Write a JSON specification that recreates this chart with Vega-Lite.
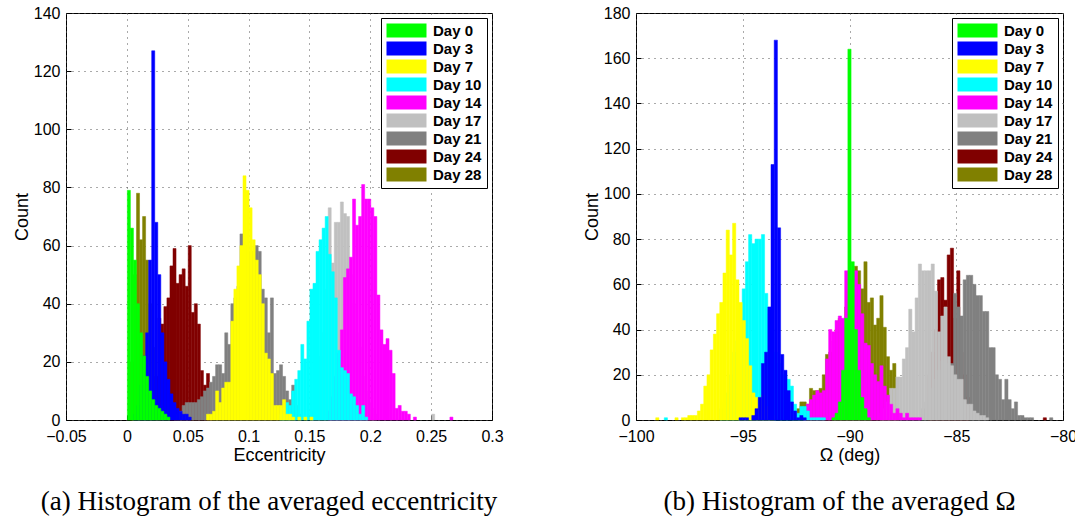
{
"$schema": "https://vega.github.io/schema/vega-lite/v6.json",
"background": "white",
"padding": {"left": 12, "top": 4, "right": 0, "bottom": 0},
"datasets": {
"ecc": [
{"d":"Day 28","x":0.0025,"c":20},{"d":"Day 28","x":0.005,"c":50},{"d":"Day 28","x":0.0075,"c":78},{"d":"Day 28","x":0.01,"c":62},{"d":"Day 28","x":0.0125,"c":70},{"d":"Day 28","x":0.015,"c":55},{"d":"Day 28","x":0.0175,"c":40},{"d":"Day 28","x":0.02,"c":25},{"d":"Day 28","x":0.0225,"c":10},{"d":"Day 28","x":0.025,"c":4},
{"d":"Day 24","x":0.0225,"c":15},{"d":"Day 24","x":0.025,"c":35},{"d":"Day 24","x":0.0275,"c":33},{"d":"Day 24","x":0.03,"c":39},{"d":"Day 24","x":0.0325,"c":42},{"d":"Day 24","x":0.035,"c":53},{"d":"Day 24","x":0.0375,"c":59},{"d":"Day 24","x":0.04,"c":47},{"d":"Day 24","x":0.0425,"c":50},{"d":"Day 24","x":0.045,"c":52},{"d":"Day 24","x":0.0475,"c":46},{"d":"Day 24","x":0.05,"c":60},{"d":"Day 24","x":0.0525,"c":37},{"d":"Day 24","x":0.055,"c":40},{"d":"Day 24","x":0.0575,"c":33},{"d":"Day 24","x":0.06,"c":17},{"d":"Day 24","x":0.0625,"c":12},{"d":"Day 24","x":0.065,"c":16},{"d":"Day 24","x":0.0675,"c":3},
{"d":"Day 21","x":0.04,"c":2},{"d":"Day 21","x":0.0425,"c":3},{"d":"Day 21","x":0.045,"c":5},{"d":"Day 21","x":0.0475,"c":6},{"d":"Day 21","x":0.05,"c":6},{"d":"Day 21","x":0.0525,"c":6},{"d":"Day 21","x":0.055,"c":6},{"d":"Day 21","x":0.0575,"c":7},{"d":"Day 21","x":0.06,"c":8},{"d":"Day 21","x":0.0625,"c":10},{"d":"Day 21","x":0.065,"c":11},{"d":"Day 21","x":0.0675,"c":13},{"d":"Day 21","x":0.07,"c":15},{"d":"Day 21","x":0.0725,"c":19},{"d":"Day 21","x":0.075,"c":19},{"d":"Day 21","x":0.0775,"c":16},{"d":"Day 21","x":0.08,"c":30},{"d":"Day 21","x":0.0825,"c":26},{"d":"Day 21","x":0.085,"c":40},{"d":"Day 21","x":0.0875,"c":42},{"d":"Day 21","x":0.09,"c":46},{"d":"Day 21","x":0.0925,"c":64},{"d":"Day 21","x":0.095,"c":64},{"d":"Day 21","x":0.0975,"c":60},{"d":"Day 21","x":0.1,"c":58},{"d":"Day 21","x":0.1025,"c":58},{"d":"Day 21","x":0.105,"c":60},{"d":"Day 21","x":0.1075,"c":58},{"d":"Day 21","x":0.11,"c":45},{"d":"Day 21","x":0.1125,"c":42},{"d":"Day 21","x":0.115,"c":30},{"d":"Day 21","x":0.1175,"c":42},{"d":"Day 21","x":0.12,"c":16},{"d":"Day 21","x":0.1225,"c":17},{"d":"Day 21","x":0.125,"c":19},{"d":"Day 21","x":0.1275,"c":15},{"d":"Day 21","x":0.13,"c":10},{"d":"Day 21","x":0.1325,"c":7},{"d":"Day 21","x":0.135,"c":12},{"d":"Day 21","x":0.1375,"c":5},{"d":"Day 21","x":0.14,"c":2},
{"d":"Day 17","x":0.15,"c":3},{"d":"Day 17","x":0.1525,"c":8},{"d":"Day 17","x":0.155,"c":15},{"d":"Day 17","x":0.1575,"c":22},{"d":"Day 17","x":0.16,"c":30},{"d":"Day 17","x":0.1625,"c":45},{"d":"Day 17","x":0.165,"c":73},{"d":"Day 17","x":0.1675,"c":54},{"d":"Day 17","x":0.17,"c":68},{"d":"Day 17","x":0.1725,"c":68},{"d":"Day 17","x":0.175,"c":75},{"d":"Day 17","x":0.1775,"c":71},{"d":"Day 17","x":0.18,"c":70},{"d":"Day 17","x":0.1825,"c":50},{"d":"Day 17","x":0.185,"c":40},{"d":"Day 17","x":0.1875,"c":30},{"d":"Day 17","x":0.19,"c":25},{"d":"Day 17","x":0.1925,"c":15},{"d":"Day 17","x":0.195,"c":10},{"d":"Day 17","x":0.1975,"c":6},{"d":"Day 17","x":0.2,"c":4},{"d":"Day 17","x":0.2025,"c":2},{"d":"Day 17","x":0.25,"c":2},
{"d":"Day 14","x":0.165,"c":3},{"d":"Day 14","x":0.1675,"c":8},{"d":"Day 14","x":0.17,"c":15},{"d":"Day 14","x":0.1725,"c":23},{"d":"Day 14","x":0.175,"c":31},{"d":"Day 14","x":0.1775,"c":49},{"d":"Day 14","x":0.18,"c":52},{"d":"Day 14","x":0.1825,"c":56},{"d":"Day 14","x":0.185,"c":76},{"d":"Day 14","x":0.1875,"c":67},{"d":"Day 14","x":0.19,"c":70},{"d":"Day 14","x":0.1925,"c":81},{"d":"Day 14","x":0.195,"c":76},{"d":"Day 14","x":0.1975,"c":76},{"d":"Day 14","x":0.2,"c":73},{"d":"Day 14","x":0.2025,"c":70},{"d":"Day 14","x":0.205,"c":43},{"d":"Day 14","x":0.2075,"c":31},{"d":"Day 14","x":0.21,"c":26},{"d":"Day 14","x":0.2125,"c":28},{"d":"Day 14","x":0.215,"c":24},{"d":"Day 14","x":0.2175,"c":16},{"d":"Day 14","x":0.22,"c":4},{"d":"Day 14","x":0.2225,"c":5},{"d":"Day 14","x":0.225,"c":3},{"d":"Day 14","x":0.2275,"c":3},{"d":"Day 14","x":0.23,"c":2},{"d":"Day 14","x":0.235,"c":1},{"d":"Day 14","x":0.265,"c":1},
{"d":"Day 10","x":0.125,"c":2},{"d":"Day 10","x":0.1275,"c":4},{"d":"Day 10","x":0.13,"c":6},{"d":"Day 10","x":0.1325,"c":5},{"d":"Day 10","x":0.135,"c":10},{"d":"Day 10","x":0.1375,"c":14},{"d":"Day 10","x":0.14,"c":17},{"d":"Day 10","x":0.1425,"c":26},{"d":"Day 10","x":0.145,"c":21},{"d":"Day 10","x":0.1475,"c":34},{"d":"Day 10","x":0.15,"c":45},{"d":"Day 10","x":0.1525,"c":47},{"d":"Day 10","x":0.155,"c":58},{"d":"Day 10","x":0.1575,"c":62},{"d":"Day 10","x":0.16,"c":66},{"d":"Day 10","x":0.1625,"c":70},{"d":"Day 10","x":0.165,"c":57},{"d":"Day 10","x":0.1675,"c":51},{"d":"Day 10","x":0.17,"c":42},{"d":"Day 10","x":0.1725,"c":24},{"d":"Day 10","x":0.175,"c":18},{"d":"Day 10","x":0.1775,"c":17},{"d":"Day 10","x":0.18,"c":16},{"d":"Day 10","x":0.1825,"c":9},{"d":"Day 10","x":0.185,"c":8},{"d":"Day 10","x":0.1875,"c":5},{"d":"Day 10","x":0.19,"c":2},{"d":"Day 10","x":0.1925,"c":5},{"d":"Day 10","x":0.195,"c":1},
{"d":"Day 7","x":0.065,"c":2},{"d":"Day 7","x":0.0675,"c":2},{"d":"Day 7","x":0.07,"c":3},{"d":"Day 7","x":0.0725,"c":10},{"d":"Day 7","x":0.075,"c":6},{"d":"Day 7","x":0.0775,"c":11},{"d":"Day 7","x":0.08,"c":13},{"d":"Day 7","x":0.0825,"c":13},{"d":"Day 7","x":0.085,"c":34},{"d":"Day 7","x":0.0875,"c":45},{"d":"Day 7","x":0.09,"c":53},{"d":"Day 7","x":0.0925,"c":60},{"d":"Day 7","x":0.095,"c":84},{"d":"Day 7","x":0.0975,"c":79},{"d":"Day 7","x":0.1,"c":73},{"d":"Day 7","x":0.1025,"c":62},{"d":"Day 7","x":0.105,"c":55},{"d":"Day 7","x":0.1075,"c":50},{"d":"Day 7","x":0.11,"c":40},{"d":"Day 7","x":0.1125,"c":23},{"d":"Day 7","x":0.115,"c":21},{"d":"Day 7","x":0.1175,"c":16},{"d":"Day 7","x":0.12,"c":5},{"d":"Day 7","x":0.1225,"c":5},{"d":"Day 7","x":0.125,"c":5},{"d":"Day 7","x":0.1275,"c":7},{"d":"Day 7","x":0.13,"c":2},{"d":"Day 7","x":0.1325,"c":2},{"d":"Day 7","x":0.135,"c":1},{"d":"Day 7","x":0.14,"c":1},{"d":"Day 7","x":0.145,"c":1},{"d":"Day 7","x":0.15,"c":1},
{"d":"Day 3","x":0.005,"c":2},{"d":"Day 3","x":0.0075,"c":5},{"d":"Day 3","x":0.01,"c":12},{"d":"Day 3","x":0.0125,"c":22},{"d":"Day 3","x":0.015,"c":30},{"d":"Day 3","x":0.0175,"c":55},{"d":"Day 3","x":0.02,"c":127},{"d":"Day 3","x":0.0225,"c":68},{"d":"Day 3","x":0.025,"c":50},{"d":"Day 3","x":0.0275,"c":30},{"d":"Day 3","x":0.03,"c":20},{"d":"Day 3","x":0.0325,"c":14},{"d":"Day 3","x":0.035,"c":9},{"d":"Day 3","x":0.0375,"c":6},{"d":"Day 3","x":0.04,"c":4},{"d":"Day 3","x":0.0425,"c":3},{"d":"Day 3","x":0.045,"c":2},{"d":"Day 3","x":0.0475,"c":2},{"d":"Day 3","x":0.05,"c":1},
{"d":"Day 0","x":0,"c":79},{"d":"Day 0","x":0.0025,"c":66},{"d":"Day 0","x":0.005,"c":55},{"d":"Day 0","x":0.0075,"c":40},{"d":"Day 0","x":0.01,"c":30},{"d":"Day 0","x":0.0125,"c":22},{"d":"Day 0","x":0.015,"c":15},{"d":"Day 0","x":0.0175,"c":10},{"d":"Day 0","x":0.02,"c":7},{"d":"Day 0","x":0.0225,"c":5},{"d":"Day 0","x":0.025,"c":4},{"d":"Day 0","x":0.0275,"c":3},{"d":"Day 0","x":0.03,"c":2},{"d":"Day 0","x":0.0325,"c":1}
],
"om": [
{"d":"Day 28","x":-92.65,"c":3},{"d":"Day 28","x":-92.5,"c":5},{"d":"Day 28","x":-92.35,"c":8},{"d":"Day 28","x":-92.2,"c":8},{"d":"Day 28","x":-92.05,"c":7},{"d":"Day 28","x":-91.9,"c":14},{"d":"Day 28","x":-91.75,"c":13},{"d":"Day 28","x":-91.6,"c":13},{"d":"Day 28","x":-91.45,"c":14},{"d":"Day 28","x":-91.3,"c":20},{"d":"Day 28","x":-91.15,"c":29},{"d":"Day 28","x":-91.0,"c":30},{"d":"Day 28","x":-90.85,"c":35},{"d":"Day 28","x":-90.7,"c":40},{"d":"Day 28","x":-90.55,"c":45},{"d":"Day 28","x":-90.4,"c":41},{"d":"Day 28","x":-90.25,"c":50},{"d":"Day 28","x":-90.1,"c":55},{"d":"Day 28","x":-89.95,"c":60},{"d":"Day 28","x":-89.8,"c":68},{"d":"Day 28","x":-89.65,"c":66},{"d":"Day 28","x":-89.5,"c":58},{"d":"Day 28","x":-89.35,"c":70},{"d":"Day 28","x":-89.2,"c":52},{"d":"Day 28","x":-89.05,"c":54},{"d":"Day 28","x":-88.9,"c":42},{"d":"Day 28","x":-88.75,"c":45},{"d":"Day 28","x":-88.6,"c":55},{"d":"Day 28","x":-88.45,"c":41},{"d":"Day 28","x":-88.3,"c":28},{"d":"Day 28","x":-88.15,"c":22},{"d":"Day 28","x":-88.0,"c":25},{"d":"Day 28","x":-87.85,"c":3},
{"d":"Day 24","x":-86.35,"c":20},{"d":"Day 24","x":-86.2,"c":30},{"d":"Day 24","x":-86.05,"c":40},{"d":"Day 24","x":-85.9,"c":62},{"d":"Day 24","x":-85.75,"c":63},{"d":"Day 24","x":-85.6,"c":53},{"d":"Day 24","x":-85.45,"c":73},{"d":"Day 24","x":-85.3,"c":76},{"d":"Day 24","x":-85.15,"c":45},{"d":"Day 24","x":-85.0,"c":66},{"d":"Day 24","x":-84.85,"c":30},{"d":"Day 24","x":-84.7,"c":20},{"d":"Day 24","x":-84.55,"c":10},{"d":"Day 24","x":-80.95,"c":1},
{"d":"Day 21","x":-86.65,"c":5},{"d":"Day 21","x":-86.5,"c":8},{"d":"Day 21","x":-86.35,"c":10},{"d":"Day 21","x":-86.2,"c":14},{"d":"Day 21","x":-86.05,"c":18},{"d":"Day 21","x":-85.9,"c":22},{"d":"Day 21","x":-85.75,"c":26},{"d":"Day 21","x":-85.6,"c":28},{"d":"Day 21","x":-85.45,"c":25},{"d":"Day 21","x":-85.3,"c":25},{"d":"Day 21","x":-85.15,"c":56},{"d":"Day 21","x":-85.0,"c":50},{"d":"Day 21","x":-84.85,"c":46},{"d":"Day 21","x":-84.7,"c":62},{"d":"Day 21","x":-84.55,"c":64},{"d":"Day 21","x":-84.4,"c":64},{"d":"Day 21","x":-84.25,"c":60},{"d":"Day 21","x":-84.1,"c":55},{"d":"Day 21","x":-83.95,"c":55},{"d":"Day 21","x":-83.8,"c":48},{"d":"Day 21","x":-83.65,"c":48},{"d":"Day 21","x":-83.5,"c":32},{"d":"Day 21","x":-83.35,"c":32},{"d":"Day 21","x":-83.2,"c":20},{"d":"Day 21","x":-83.05,"c":18},{"d":"Day 21","x":-82.9,"c":9},{"d":"Day 21","x":-82.75,"c":18},{"d":"Day 21","x":-82.6,"c":9},{"d":"Day 21","x":-82.45,"c":5},{"d":"Day 21","x":-82.3,"c":8},{"d":"Day 21","x":-82.15,"c":2},{"d":"Day 21","x":-82.0,"c":2},{"d":"Day 21","x":-81.85,"c":1},{"d":"Day 21","x":-81.7,"c":1},{"d":"Day 21","x":-81.55,"c":1},{"d":"Day 21","x":-80.65,"c":1},
{"d":"Day 17","x":-88.6,"c":3},{"d":"Day 17","x":-88.45,"c":5},{"d":"Day 17","x":-88.3,"c":8},{"d":"Day 17","x":-88.15,"c":14},{"d":"Day 17","x":-88.0,"c":14},{"d":"Day 17","x":-87.85,"c":19},{"d":"Day 17","x":-87.7,"c":19},{"d":"Day 17","x":-87.55,"c":27},{"d":"Day 17","x":-87.4,"c":32},{"d":"Day 17","x":-87.25,"c":49},{"d":"Day 17","x":-87.1,"c":39},{"d":"Day 17","x":-86.95,"c":54},{"d":"Day 17","x":-86.8,"c":69},{"d":"Day 17","x":-86.65,"c":66},{"d":"Day 17","x":-86.5,"c":66},{"d":"Day 17","x":-86.35,"c":66},{"d":"Day 17","x":-86.2,"c":69},{"d":"Day 17","x":-86.05,"c":57},{"d":"Day 17","x":-85.9,"c":39},{"d":"Day 17","x":-85.75,"c":46},{"d":"Day 17","x":-85.6,"c":50},{"d":"Day 17","x":-85.45,"c":28},{"d":"Day 17","x":-85.3,"c":24},{"d":"Day 17","x":-85.15,"c":20},{"d":"Day 17","x":-85.0,"c":18},{"d":"Day 17","x":-84.85,"c":18},{"d":"Day 17","x":-84.7,"c":9},{"d":"Day 17","x":-84.55,"c":7},{"d":"Day 17","x":-84.4,"c":7},{"d":"Day 17","x":-84.25,"c":4},{"d":"Day 17","x":-84.1,"c":3},{"d":"Day 17","x":-83.95,"c":2},{"d":"Day 17","x":-83.8,"c":2},{"d":"Day 17","x":-83.65,"c":1},
{"d":"Day 14","x":-92.2,"c":2},{"d":"Day 14","x":-92.05,"c":7},{"d":"Day 14","x":-91.9,"c":9},{"d":"Day 14","x":-91.75,"c":11},{"d":"Day 14","x":-91.6,"c":13},{"d":"Day 14","x":-91.45,"c":12},{"d":"Day 14","x":-91.3,"c":13},{"d":"Day 14","x":-91.15,"c":27},{"d":"Day 14","x":-91.0,"c":40},{"d":"Day 14","x":-90.85,"c":39},{"d":"Day 14","x":-90.7,"c":44},{"d":"Day 14","x":-90.55,"c":46},{"d":"Day 14","x":-90.4,"c":45},{"d":"Day 14","x":-90.25,"c":66},{"d":"Day 14","x":-90.1,"c":66},{"d":"Day 14","x":-89.95,"c":62},{"d":"Day 14","x":-89.8,"c":66},{"d":"Day 14","x":-89.65,"c":60},{"d":"Day 14","x":-89.5,"c":47},{"d":"Day 14","x":-89.35,"c":34},{"d":"Day 14","x":-89.2,"c":33},{"d":"Day 14","x":-89.05,"c":25},{"d":"Day 14","x":-88.9,"c":20},{"d":"Day 14","x":-88.75,"c":17},{"d":"Day 14","x":-88.6,"c":24},{"d":"Day 14","x":-88.45,"c":15},{"d":"Day 14","x":-88.3,"c":11},{"d":"Day 14","x":-88.15,"c":7},{"d":"Day 14","x":-88.0,"c":3},{"d":"Day 14","x":-87.85,"c":5},{"d":"Day 14","x":-87.7,"c":3},{"d":"Day 14","x":-87.55,"c":1},{"d":"Day 14","x":-87.4,"c":3},{"d":"Day 14","x":-87.25,"c":1},{"d":"Day 14","x":-87.1,"c":1},{"d":"Day 14","x":-86.95,"c":1},{"d":"Day 14","x":-86.8,"c":1},
{"d":"Day 10","x":-98.7,"c":1},{"d":"Day 10","x":-96.1,"c":5},{"d":"Day 10","x":-95.95,"c":8},{"d":"Day 10","x":-95.8,"c":12},{"d":"Day 10","x":-95.65,"c":20},{"d":"Day 10","x":-95.5,"c":30},{"d":"Day 10","x":-95.35,"c":35},{"d":"Day 10","x":-95.2,"c":45},{"d":"Day 10","x":-95.05,"c":58},{"d":"Day 10","x":-94.9,"c":70},{"d":"Day 10","x":-94.75,"c":82},{"d":"Day 10","x":-94.6,"c":78},{"d":"Day 10","x":-94.45,"c":80},{"d":"Day 10","x":-94.3,"c":80},{"d":"Day 10","x":-94.15,"c":82},{"d":"Day 10","x":-94.0,"c":56},{"d":"Day 10","x":-93.85,"c":47},{"d":"Day 10","x":-93.7,"c":40},{"d":"Day 10","x":-93.55,"c":30},{"d":"Day 10","x":-93.4,"c":25},{"d":"Day 10","x":-93.25,"c":20},{"d":"Day 10","x":-93.1,"c":20},{"d":"Day 10","x":-92.95,"c":18},{"d":"Day 10","x":-92.8,"c":15},{"d":"Day 10","x":-92.65,"c":7},{"d":"Day 10","x":-92.5,"c":3},{"d":"Day 10","x":-92.35,"c":6},{"d":"Day 10","x":-92.2,"c":6},{"d":"Day 10","x":-92.05,"c":4},{"d":"Day 10","x":-91.9,"c":1},{"d":"Day 10","x":-91.75,"c":1},{"d":"Day 10","x":-91.6,"c":1},{"d":"Day 10","x":-91.45,"c":1},{"d":"Day 10","x":-91.3,"c":1},
{"d":"Day 7","x":-99.1,"c":1},{"d":"Day 7","x":-98.2,"c":1},{"d":"Day 7","x":-97.9,"c":1},{"d":"Day 7","x":-97.75,"c":1},{"d":"Day 7","x":-97.6,"c":2},{"d":"Day 7","x":-97.45,"c":2},{"d":"Day 7","x":-97.3,"c":2},{"d":"Day 7","x":-97.15,"c":4},{"d":"Day 7","x":-97.0,"c":7},{"d":"Day 7","x":-96.85,"c":15},{"d":"Day 7","x":-96.7,"c":20},{"d":"Day 7","x":-96.55,"c":31},{"d":"Day 7","x":-96.4,"c":38},{"d":"Day 7","x":-96.25,"c":47},{"d":"Day 7","x":-96.1,"c":52},{"d":"Day 7","x":-95.95,"c":65},{"d":"Day 7","x":-95.8,"c":84},{"d":"Day 7","x":-95.65,"c":73},{"d":"Day 7","x":-95.5,"c":87},{"d":"Day 7","x":-95.35,"c":62},{"d":"Day 7","x":-95.2,"c":52},{"d":"Day 7","x":-95.05,"c":44},{"d":"Day 7","x":-94.9,"c":36},{"d":"Day 7","x":-94.75,"c":24},{"d":"Day 7","x":-94.6,"c":12},{"d":"Day 7","x":-94.45,"c":10},{"d":"Day 7","x":-94.3,"c":7},{"d":"Day 7","x":-94.15,"c":11},{"d":"Day 7","x":-94.0,"c":6},{"d":"Day 7","x":-93.85,"c":3},{"d":"Day 7","x":-93.7,"c":2},
{"d":"Day 3","x":-95.2,"c":1},{"d":"Day 3","x":-95.05,"c":1},{"d":"Day 3","x":-94.9,"c":1},{"d":"Day 3","x":-94.6,"c":2},{"d":"Day 3","x":-94.45,"c":5},{"d":"Day 3","x":-94.3,"c":10},{"d":"Day 3","x":-94.15,"c":25},{"d":"Day 3","x":-94.0,"c":30},{"d":"Day 3","x":-93.85,"c":50},{"d":"Day 3","x":-93.7,"c":113},{"d":"Day 3","x":-93.55,"c":168},{"d":"Day 3","x":-93.4,"c":85},{"d":"Day 3","x":-93.25,"c":29},{"d":"Day 3","x":-93.1,"c":22},{"d":"Day 3","x":-92.95,"c":13},{"d":"Day 3","x":-92.8,"c":8},{"d":"Day 3","x":-92.65,"c":4},{"d":"Day 3","x":-92.5,"c":1},{"d":"Day 3","x":-92.35,"c":2},{"d":"Day 3","x":-92.2,"c":1},
{"d":"Day 0","x":-90.85,"c":1},{"d":"Day 0","x":-90.7,"c":3},{"d":"Day 0","x":-90.55,"c":8},{"d":"Day 0","x":-90.4,"c":22},{"d":"Day 0","x":-90.25,"c":45},{"d":"Day 0","x":-90.1,"c":164},{"d":"Day 0","x":-89.95,"c":70},{"d":"Day 0","x":-89.8,"c":40},{"d":"Day 0","x":-89.65,"c":22},{"d":"Day 0","x":-89.5,"c":10},{"d":"Day 0","x":-89.35,"c":5},{"d":"Day 0","x":-89.2,"c":1}
]
},
"hconcat": [
{
"width": 426, "height": 407,
"data": {"name": "ecc"},
"title": {"text": "(a) Histogram of the averaged eccentricity", "orient": "bottom", "anchor": "middle", "frame": "group", "dx": -10, "offset": 25},
"mark": {"type": "bar", "binSpacing": 0, "strokeWidth": 0.5},
"encoding": {
"x": {"field": "x", "type": "quantitative", "bin": {"binned": true, "step": 0.0025}, "scale": {"domain": [-0.05, 0.3], "nice": false, "zero": false}, "axis": {"values": [-0.05, 0, 0.05, 0.1, 0.15, 0.2, 0.25, 0.3], "format": "~g", "title": "Eccentricity", "labelPadding": 13}},
"y": {"field": "c", "type": "quantitative", "stack": null, "scale": {"domain": [0, 140], "nice": false}, "axis": {"values": [0, 20, 40, 60, 80, 100, 120, 140], "title": "Count"}},
"color": {"field": "d", "type": "nominal", "scale": {"domain": ["Day 0","Day 3","Day 7","Day 10","Day 14","Day 17","Day 21","Day 24","Day 28"], "range": ["#00ff00","#0000ff","#ffff00","#00ffff","#ff00ff","#c0c0c0","#808080","#800000","#808000"]}, "legend": {"title": null, "orient": "top-right"}},
"stroke": {"field": "d", "type": "nominal", "scale": {"domain": ["Day 0","Day 3","Day 7","Day 10","Day 14","Day 17","Day 21","Day 24","Day 28"], "range": ["#00ff00","#0000ff","#ffff00","#00ffff","#ff00ff","#c0c0c0","#808080","#800000","#808000"]}, "legend": null}
}
},
{
"width": 427, "height": 407,
"data": {"name": "om"},
"title": {"text": "(b) Histogram of the averaged Ω", "orient": "bottom", "anchor": "middle", "frame": "group", "dx": -10, "offset": 25},
"mark": {"type": "bar", "binSpacing": 0, "strokeWidth": 0.5},
"encoding": {
"x": {"field": "x", "type": "quantitative", "bin": {"binned": true, "step": 0.15}, "scale": {"domain": [-100, -80], "nice": false, "zero": false}, "axis": {"values": [-100, -95, -90, -85, -80], "format": "d", "title": "Ω (deg)", "labelPadding": 13}},
"y": {"field": "c", "type": "quantitative", "stack": null, "scale": {"domain": [0, 180], "nice": false}, "axis": {"values": [0, 20, 40, 60, 80, 100, 120, 140, 160, 180], "title": "Count"}},
"color": {"field": "d", "type": "nominal", "scale": {"domain": ["Day 0","Day 3","Day 7","Day 10","Day 14","Day 17","Day 21","Day 24","Day 28"], "range": ["#00ff00","#0000ff","#ffff00","#00ffff","#ff00ff","#c0c0c0","#808080","#800000","#808000"]}, "legend": {"title": null, "orient": "top-right"}},
"stroke": {"field": "d", "type": "nominal", "scale": {"domain": ["Day 0","Day 3","Day 7","Day 10","Day 14","Day 17","Day 21","Day 24","Day 28"], "range": ["#00ff00","#0000ff","#ffff00","#00ffff","#ff00ff","#c0c0c0","#808080","#800000","#808000"]}, "legend": null}
}
}
],
"spacing": 78,
"resolve": {"scale": {"color": "independent"}, "legend": {"color": "independent"}},
"config": {
"view": {"stroke": "black", "strokeWidth": 1},
"font": "Liberation Sans",
"axis": {"domain": false, "grid": true, "gridColor": "#555555", "gridDash": [1, 5], "gridWidth": 1, "ticks": true, "tickColor": "black", "tickSize": -5, "labelFont": "Liberation Sans", "labelFontSize": 16, "labelColor": "black", "labelPadding": 11, "labelFlush": false, "titleFont": "Liberation Sans", "titleFontSize": 18, "titleFontWeight": "normal", "titleColor": "black", "titlePadding": 2},
"legend": {"offset": 5, "strokeColor": "black", "fillColor": "white", "padding": 5, "symbolType": "M-2.857,-1H2.857V1H-2.857Z", "symbolSize": 196, "symbolOffset": 13, "symbolStrokeWidth": 0, "symbolOpacity": 1, "labelFont": "Liberation Sans", "labelFontWeight": "bold", "labelFontSize": 15, "labelColor": "black", "labelOffset": 19, "rowPadding": 2},
"title": {"font": "Liberation Serif", "fontSize": 27, "fontWeight": "normal", "color": "black"}
}
}
